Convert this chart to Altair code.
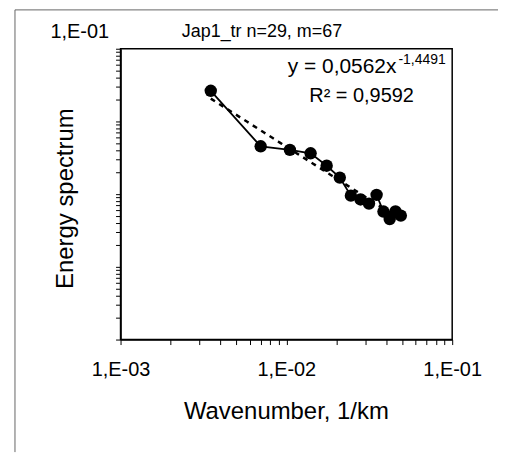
import altair as alt
import pandas as pd

# Data
wavenumber = [0.0035, 0.007, 0.0105, 0.014, 0.0175, 0.021, 0.0245,
              0.028, 0.0315, 0.035, 0.0385, 0.042, 0.0455, 0.049]
energy = [0.0264, 0.00455, 0.00407, 0.00365, 0.00246, 0.00169, 0.000953,
          0.000846, 0.000741, 0.000978, 0.000576, 0.000455, 0.00058, 0.000507]

x_decades = [0.001, 0.01, 0.1]
y_decades = [0.00001, 0.0001, 0.001, 0.01, 0.1]
x_ticks = [m * d for d in x_decades[:-1] for m in range(1, 10)] + [0.1]
y_ticks = [m * d for d in y_decades[:-1] for m in range(1, 10)] + [0.1]

chart_title = "Jap1_tr n=29, m=67"
eq_main = "y = 0,0562x"
eq_exp = "-1,4491"
r2_text = "R\u00b2 = 0,9592"
x_title = "Wavenumber, 1/km"
y_title = "Energy spectrum"

df = pd.DataFrame({"k": wavenumber, "E": energy})
FONT = "Liberation Sans"

x_enc = alt.X("k:Q", scale=alt.Scale(type="log", domain=[0.001, 0.1], nice=False),
              axis=alt.Axis(values=x_ticks, grid=False,
                            labelExpr="datum.value == 0.001 ? '1,E-03' : datum.value == 0.01 ? '1,E-02' : datum.value == 0.1 ? '1,E-01' : ''",
                            labelOverlap=False, labelFlush=False, labelBound=False,
                            labelFontSize=20, labelPadding=15, tickSize=5,
                            title=x_title, titleFontSize=24, titleFontWeight="normal",
                            titleY=60, titleBaseline="top", titleX=166))
y_enc = alt.Y("E:Q", scale=alt.Scale(type="log", domain=[0.00001, 0.1], nice=False),
              axis=alt.Axis(values=y_ticks, grid=False,
                            labelExpr="datum.value == 0.1 ? '1,E-01' : ''",
                            labelOverlap=False, labelFlush=False, labelBound=False,
                            labelFontSize=20, labelPadding=7, tickSize=5, labelOffset=-17,
                            title=y_title, titleFontSize=24, titleFontWeight="normal",
                            titleX=-55, titleY=150, titleAngle=270, titleBaseline="middle",
                            titleAlign="center"))

base = alt.Chart(df)
line = base.mark_line(color="black", strokeWidth=1.8).encode(x=x_enc, y=y_enc)
trend = base.transform_regression("k", "E", method="pow").mark_line(
    color="black", strokeWidth=2.5, strokeDash=[5, 5]).encode(x="k:Q", y="E:Q")
points = base.mark_circle(color="black", opacity=1, size=155).encode(x="k:Q", y="E:Q")

one = alt.Data(values=[{}])
title_t = alt.Chart(one).mark_text(text=chart_title, fontSize=18, align="center", baseline="alphabetic",
                                   font=FONT, color="black").encode(x=alt.value(142), y=alt.value(-12))
eq1 = alt.Chart(one).mark_text(text=eq_main, fontSize=21, align="right", baseline="alphabetic",
                               font=FONT, color="black").encode(x=alt.value(277), y=alt.value(24))
eq2 = alt.Chart(one).mark_text(text=eq_exp, fontSize=14, align="left", baseline="alphabetic",
                               font=FONT, color="black").encode(x=alt.value(279), y=alt.value(15))
r2 = alt.Chart(one).mark_text(text=r2_text, fontSize=20, align="center", baseline="alphabetic",
                              font=FONT, color="black").encode(x=alt.value(242), y=alt.value(53))
frame_left = alt.Chart(one).mark_rule(color="#666666", strokeWidth=1).encode(
    x=alt.value(-106), y=alt.value(-39), y2=alt.value(405))
frame_top = alt.Chart(one).mark_rule(color="#666666", strokeWidth=1).encode(
    x=alt.value(-106), x2=alt.value(379), y=alt.value(-39))

chart = alt.layer(frame_left, frame_top, line, trend, points, title_t, eq1, eq2, r2).properties(
    width=333, height=292,
    padding={"left": 6, "top": 0, "right": 0, "bottom": 0},
    background="white",
).configure_view(stroke="black", strokeWidth=1.5).configure_axis(
    domainColor="black", domainWidth=1.5, tickColor="black", tickWidth=1,
    labelColor="black", titleColor="black", labelFont=FONT, titleFont=FONT, grid=False,
)

chart.save("out.html", embed_options={"renderer": "svg", "actions": False})
